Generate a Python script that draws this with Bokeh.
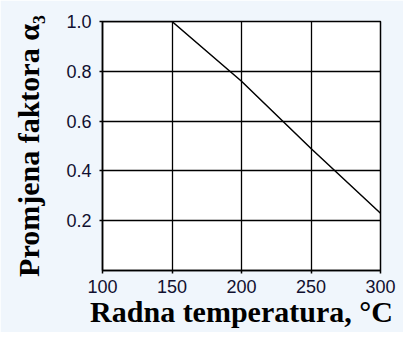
from bokeh.plotting import figure
from bokeh.models import Range1d, FixedTicker
from bokeh.embed import file_html
from bokeh.resources import INLINE

temperature = [100, 150, 200, 250, 300]
alpha3 = [1.0, 1.0, 0.76, 0.49, 0.23]
x_ticks = [100, 150, 200, 250, 300]
y_ticks = [0.2, 0.4, 0.6, 0.8, 1.0]

p = figure(width=403, height=332, output_backend="svg", toolbar_location=None,
           x_range=Range1d(100, 300), y_range=Range1d(0, 1.0),
           min_border_left=102, min_border_right=23, min_border_top=21, min_border_bottom=62)

p.background_fill_color = "white"
p.border_fill_color = "#f0f6fc"
p.outline_line_color = "black"
p.outline_line_width = 1.5

p.line(temperature, alpha3, line_color="black", line_width=1.5)

p.xaxis.ticker = FixedTicker(ticks=x_ticks)
p.yaxis.ticker = FixedTicker(ticks=y_ticks)
p.yaxis.major_label_overrides = {t: f"{t:.1f}" for t in y_ticks}

for ax in (p.xaxis, p.yaxis):
    ax.axis_line_color = "black"
    ax.axis_line_width = 1.5
    ax.major_tick_line_color = "black"
    ax.major_tick_line_width = 1.5
    ax.major_tick_out = 3
    ax.major_tick_in = 0
    ax.minor_tick_line_color = None
    ax.major_label_text_font = "Liberation Sans"
    ax.major_label_text_font_size = "18px"
    ax.major_label_text_color = "#101030"
    ax.axis_label_text_font = "Liberation Serif"
    ax.axis_label_text_font_style = "bold"
    ax.axis_label_text_font_size = "30px"
    ax.axis_label_text_color = "black"

p.xaxis.axis_label = "Radna temperatura, °C"
p.yaxis.axis_label = "Promjena faktora α₃"
p.xaxis.major_label_standoff = 6
p.yaxis.major_label_standoff = 8
p.xaxis.axis_label_standoff = -1
p.yaxis.axis_label_standoff = 18

p.grid.grid_line_color = "black"
p.grid.grid_line_width = 1.3
p.grid.grid_line_alpha = 1.0
p.xgrid.ticker = FixedTicker(ticks=x_ticks)
p.ygrid.ticker = FixedTicker(ticks=y_ticks)

open("out.html", "w").write(file_html(p, INLINE))
